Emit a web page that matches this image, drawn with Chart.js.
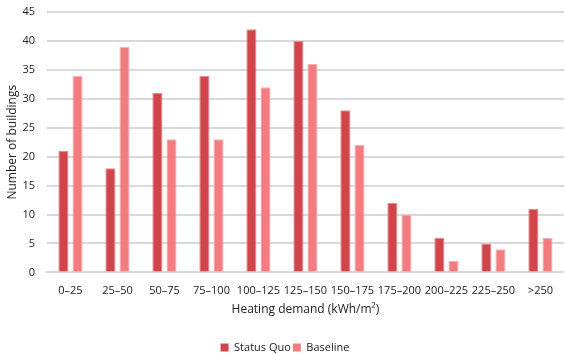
<!DOCTYPE html>
<html lang="en">
<head>
  <meta charset="UTF-8">
  <title>Heating demand</title>
  <script src="https://cdn.jsdelivr.net/npm/chart.js"></script>
  <style>
    * { margin: 0; padding: 0; box-sizing: border-box; }
    html, body { background: #ffffff; overflow: hidden; }
    canvas { display: block; }
  </style>
</head>
<body>
  <canvas id="heatChart" width="565" height="355"></canvas>
  <script>
    const categories = ['0\u201325', '25\u201350', '50\u201375', '75\u2013100', '100\u2013125', '125\u2013150',
      '150\u2013175', '175\u2013200', '200\u2013225', '225\u2013250', '>250'];
    const statusQuo = [21, 18, 31, 34, 42, 40, 28, 12, 6, 5, 11];
    const baseline = [34, 39, 23, 23, 32, 36, 22, 10, 2, 4, 6];
    const yTicks = [0, 5, 10, 15, 20, 25, 30, 35, 40, 45];

    const fontFamily = "'Open Sans', 'Liberation Sans', sans-serif";

    new Chart(document.getElementById('heatChart').getContext('2d'), {
      type: 'bar',
      data: {
        labels: categories,
        datasets: [
          {
            label: 'Status Quo',
            data: statusQuo,
            backgroundColor: '#d0444a',
            borderColor: '#e58a8d',
            borderWidth: 1
          },
          {
            label: 'Baseline',
            data: baseline,
            backgroundColor: '#f27c80',
            borderColor: '#f8b3b5',
            borderWidth: 1
          }
        ]
      },
      options: {
        responsive: false,
        animation: false,
        categoryPercentage: 0.6,
        barPercentage: 0.72,
        // negative bottom pulls the legend down (chart.js adds 10px under it)
        layout: { padding: { top: 0, right: 0, left: 5, bottom: -8 } },
        plugins: {
          legend: {
            position: 'bottom',
            labels: {
              boxWidth: 8,
              boxHeight: 8,
              padding: 2,
              color: '#222',
              font: { family: fontFamily, size: 11 },
              generateLabels: function (chart) {
                return chart.data.datasets.map((ds, i) => ({
                  text: ds.label,
                  fillStyle: ds.backgroundColor,
                  strokeStyle: ds.backgroundColor,
                  lineWidth: 0,
                  datasetIndex: i,
                  fontColor: '#222'
                }));
              }
            }
          },
          tooltip: { enabled: false }
        },
        scales: {
          x: {
            grid: { display: false, drawTicks: false },
            border: { color: '#d9d9d9', width: 2 },
            ticks: { color: '#222', font: { family: fontFamily, size: 11 }, maxRotation: 0, autoSkip: false, padding: 12 },
            title: {
              display: true,
              text: 'Heating demand (kWh/m\u00b2)',
              color: '#222',
              font: { family: fontFamily, size: 12 },
              padding: { top: -7, bottom: 23 }
            }
          },
          y: {
            min: 0,
            max: 45,
            afterBuildTicks: function (axis) {
              axis.ticks = yTicks.map(v => ({ value: v }));
            },
            afterFit: function (axis) {
              // tick padding would otherwise push the top gridline down
              axis.paddingTop = 12;
              axis.paddingBottom = 7;
            },
            grid: { color: '#d9d9d9', lineWidth: 2, drawTicks: false },
            border: { display: false },
            ticks: { color: '#222', font: { family: fontFamily, size: 11 }, padding: 12 },
            title: {
              display: true,
              text: 'Number of buildings',
              color: '#222',
              font: { family: fontFamily, size: 12 },
              padding: { top: 0, bottom: -9 }
            }
          }
        }
      }
    });
  </script>
</body>
</html>
